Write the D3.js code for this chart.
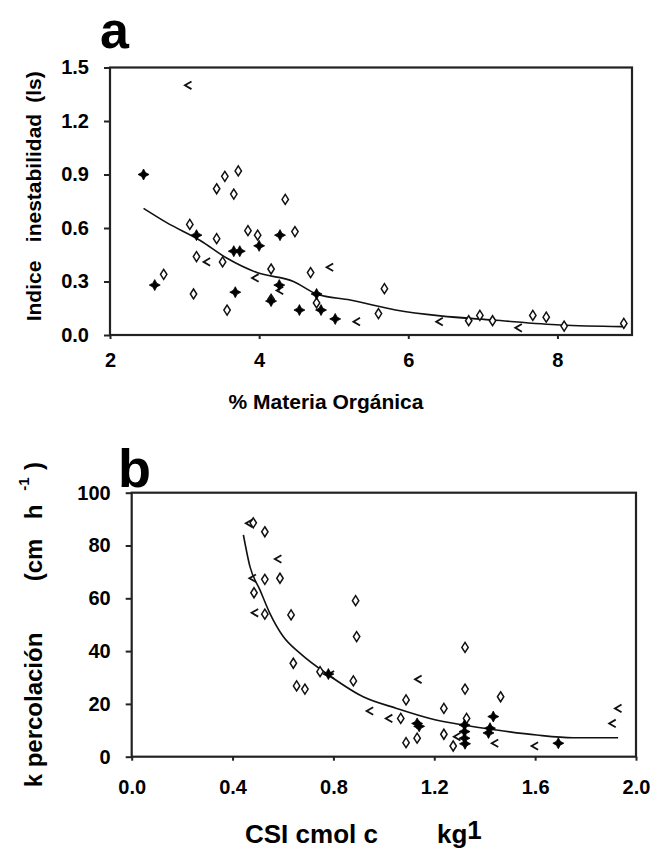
<!DOCTYPE html>
<html>
<head>
<meta charset="utf-8">
<script src="https://cdn.jsdelivr.net/npm/d3@7/dist/d3.min.js"></script>
<style>
  html, body { margin: 0; padding: 0; background: #fff; }
  svg text { font-family: Arial, "Liberation Sans", Helvetica, sans-serif; font-weight: bold; fill: #000; }
</style>
</head>
<body>
<svg id="chart" width="653" height="850"></svg>
<script>
// ---------- Panel a data ----------
const aXTicks = [2, 4, 6, 8];
const aYTicks = [0, 0.3, 0.6, 0.9, 1.2, 1.5];
const aDiamondX = [3.54,3.72,3.43,3.66,4.35,3.07,3.43,3.85,3.98,4.48,3.16,3.51,4.16,4.69,2.72,3.12,4.16,3.57,4.77,5.68,5.60,6.81,6.96,7.13,7.67,7.85,8.09,8.89];
const aDiamondY = [0.89,0.92,0.82,0.79,0.76,0.62,0.54,0.585,0.56,0.58,0.44,0.41,0.37,0.35,0.34,0.23,0.20,0.14,0.18,0.26,0.12,0.08,0.11,0.08,0.11,0.10,0.05,0.065];
const aTriX = [3.05,3.30,3.95,4.28,4.95,5.31,6.42,7.48];
const aTriY = [1.40,0.41,0.32,0.25,0.38,0.075,0.075,0.04];
const aFillX = [2.45,3.16,4.00,4.28,3.66,3.74,4.27,2.60,3.68,4.16,4.54,4.77,4.83,5.02];
const aFillY = [0.90,0.56,0.50,0.56,0.47,0.47,0.28,0.28,0.24,0.19,0.14,0.23,0.14,0.09];
const aTrendX = [2.45,2.76,3.21,3.57,3.97,4.46,4.77,5.22,5.83,6.43,7.14,8.04,8.87];
const aTrendY = [0.71,0.63,0.53,0.43,0.35,0.30,0.23,0.196,0.14,0.107,0.084,0.056,0.047];

// ---------- Panel b data ----------
const bXTicks = [0, 0.4, 0.8, 1.2, 1.6, 2.0];
const bYTicks = [0, 20, 40, 60, 80, 100];
const bDiamondX = [0.482,0.528,0.528,0.588,0.485,0.528,0.632,0.641,0.654,0.687,0.747,0.888,0.892,0.879,1.088,1.067,1.088,1.132,1.238,1.238,1.322,1.322,1.328,1.275,1.463];
const bDiamondY = [88.6,85.2,67.2,67.6,62.1,54.0,53.7,35.4,26.8,25.6,32.2,59.1,45.5,28.7,21.5,14.5,5.3,7.0,18.3,8.5,41.4,25.6,14.5,4.05,22.7];
const bTriX = [0.466,0.581,0.480,0.489,0.790,0.945,1.021,1.137,1.291,1.441,1.599,1.907,1.930];
const bTriY = [88.4,74.9,67.6,54.5,31.0,17.3,14.5,29.3,7.6,5.1,4.05,12.6,18.3];
const bFillX = [0.780,1.132,1.140,1.320,1.320,1.320,1.322,1.434,1.421,1.415,1.692];
const bFillY = [31.3,12.6,11.5,12.0,9.5,7.0,4.9,15.2,10.8,9.0,5.1];
const bTrendX = [0.443,0.469,0.509,0.548,0.601,0.667,0.786,0.918,1.051,1.183,1.315,1.447,1.606,1.751,1.929];
const bTrendY = [84,72,63.1,54.3,45.5,39.2,30.6,22.7,18.3,14.5,12.0,10.1,8.2,7.2,7.2];

const svg = d3.select("#chart");

const diamondPath = "M0,-5 L3.2,0 L0,5 L-3.2,0 Z";
const triPath = "M3.2,-3.8 L-3.4,0 L3.2,3.8";
const starPath = "M0,-5.5 L1.9,-1.9 L5.5,0 L1.9,1.9 L0,5.5 L-1.9,1.9 L-5.5,0 L-1.9,-1.9 Z";

function panel(opt) {
  const x = d3.scaleLinear().domain(opt.xDomain).range([opt.left, opt.right]);
  const y = d3.scaleLinear().domain(opt.yDomain).range([opt.bottom, opt.top]);
  const g = svg.append("g");

  g.append("rect")
    .attr("x", opt.left).attr("y", opt.top)
    .attr("width", opt.right - opt.left).attr("height", opt.bottom - opt.top)
    .attr("fill", "none").attr("stroke", "#222").attr("stroke-width", 2.2);

  const yAx = g.append("g").attr("transform", `translate(${opt.left},0)`)
    .call(d3.axisLeft(y).tickValues(opt.yTicks).tickFormat(opt.yFmt).tickSize(6).tickPadding(15));
  const xAx = g.append("g").attr("transform", `translate(0,${opt.bottom})`)
    .call(d3.axisBottom(x).tickValues(opt.xTicks).tickFormat(opt.xFmt).tickSize(4).tickPadding(opt.xPad));
  [yAx, xAx].forEach(a => {
    a.select(".domain").remove();
    a.selectAll(".tick line").attr("stroke", "#222").attr("stroke-width", 2);
    a.selectAll(".tick text").style("font-size", opt.tickFont + "px")
      .style("font-family", 'Arial, "Liberation Sans", sans-serif').style("font-weight", "bold").attr("fill", "#000");
  });

  const line = d3.line().x(d => x(d[0])).y(d => y(d[1])).curve(d3.curveMonotoneX);
  g.append("path").datum(d3.zip(opt.trendX, opt.trendY))
    .attr("d", line).attr("fill", "none").attr("stroke", "#111").attr("stroke-width", 1.6);

  g.selectAll(".dia").data(d3.zip(opt.diaX, opt.diaY)).enter().append("path")
    .attr("transform", d => `translate(${x(d[0])},${y(d[1])})`)
    .attr("d", diamondPath).attr("fill", "#fff").attr("stroke", "#111").attr("stroke-width", 1.5);
  g.selectAll(".tri").data(d3.zip(opt.triX, opt.triY)).enter().append("path")
    .attr("transform", d => `translate(${x(d[0])},${y(d[1])})`)
    .attr("d", triPath).attr("fill", "none").attr("stroke", "#111").attr("stroke-width", 1.8);
  g.selectAll(".fil").data(d3.zip(opt.filX, opt.filY)).enter().append("path")
    .attr("transform", d => `translate(${x(d[0])},${y(d[1])})`)
    .attr("d", starPath).attr("fill", "#000").attr("stroke", "#000").attr("stroke-width", 0.8);
  return g;
}

panel({
  left: 110, right: 632, top: 67.5, bottom: 335,
  xDomain: [2, 9], yDomain: [0, 1.5],
  xTicks: aXTicks, yTicks: aYTicks,
  xFmt: d3.format("d"), yFmt: d3.format(".1f"),
  xPad: 14, tickFont: 20,
  diaX: aDiamondX, diaY: aDiamondY, triX: aTriX, triY: aTriY, filX: aFillX, filY: aFillY,
  trendX: aTrendX, trendY: aTrendY
});

panel({
  left: 131.7, right: 636, top: 492.7, bottom: 756.7,
  xDomain: [0, 2], yDomain: [0, 100],
  xTicks: bXTicks, yTicks: bYTicks,
  xFmt: d3.format(".1f"), yFmt: d3.format("d"),
  xPad: 19, tickFont: 20,
  diaX: bDiamondX, diaY: bDiamondY, triX: bTriX, triY: bTriY, filX: bFillX, filY: bFillY,
  trendX: bTrendX, trendY: bTrendY
});

// panel letters
svg.append("text").attr("x", 100).attr("y", 48).style("font-size", "52px").text("a");
svg.append("text").attr("x", 118).attr("y", 487).style("font-size", "54px").text("b");

// panel a axis titles
svg.append("text").attr("x", 326).attr("y", 409).attr("text-anchor", "middle")
  .style("font-size", "21px").text("% Materia Orgánica");
const aYT = svg.append("g").attr("transform", "translate(41,0) rotate(-90)");
aYT.append("text").attr("x", -291).attr("y", 0).attr("text-anchor", "middle").style("font-size", "21px").text("Indice");
aYT.append("text").attr("x", -178).attr("y", 0).attr("text-anchor", "middle").style("font-size", "21px").text("inestabilidad");
aYT.append("text").attr("x", -87).attr("y", 0).attr("text-anchor", "middle").style("font-size", "21px").text("(ls)");

// panel b axis titles
const bX = svg.append("text").attr("y", 843).style("font-size", "26px");
bX.append("tspan").attr("x", 245).text("CSI cmol c");
bX.append("tspan").attr("x", 437).text("kg");
bX.append("tspan").attr("dy", -4).text("1");

const bYT = svg.append("g").attr("transform", "translate(42,0) rotate(-90)");
bYT.append("text").attr("x", -710).attr("y", 0).attr("text-anchor", "middle").style("font-size", "24px").text("k percolación");
bYT.append("text").attr("x", -560).attr("y", 0).attr("text-anchor", "middle").style("font-size", "24px").text("(cm");
bYT.append("text").attr("x", -512).attr("y", 0).attr("text-anchor", "middle").style("font-size", "24px").text("h");
bYT.append("text").attr("x", -484).attr("y", -13).attr("text-anchor", "middle").style("font-size", "15px").text("-1");
bYT.append("text").attr("x", -466).attr("y", 0).attr("text-anchor", "middle").style("font-size", "24px").text(")");
</script>
</body>
</html>
